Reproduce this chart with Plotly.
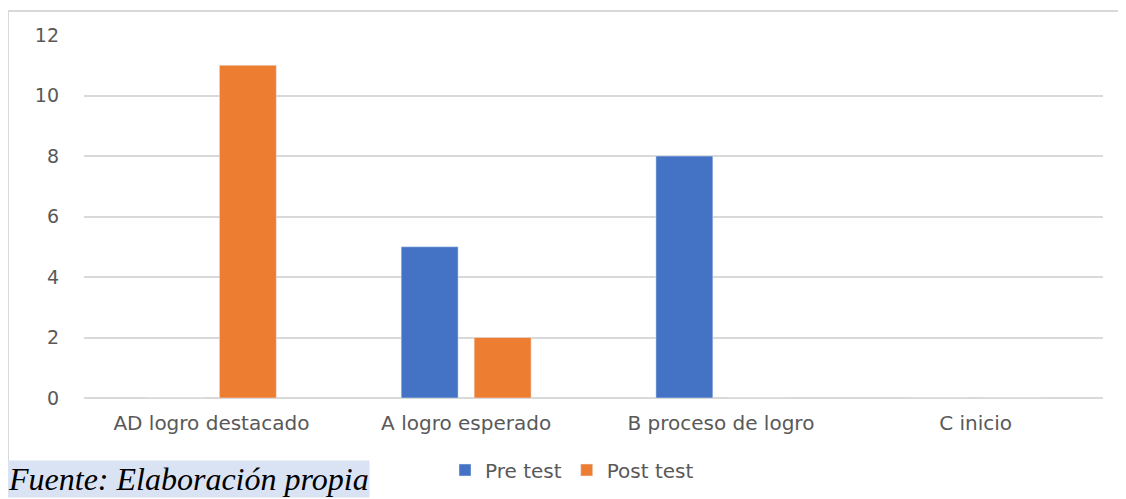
import plotly.graph_objects as go

categories = ["AD logro destacado", "A logro esperado", "B proceso de logro", "C inicio"]
pre_test = [0, 5, 8, 0]
post_test = [11, 2, 0, 0]
series_names = ["Pre test", "Post test"]
y_ticks = [0, 2, 4, 6, 8, 10, 12]
source_text = "Fuente: Elaboración propia"

W, H = 1126, 499
OFF = 8  # page offset of the figure
L, R, T, B = 84 - OFF, 23 + OFF, 35 - OFF, 101 + OFF
pw, ph = W - L - R, H - T - B

def px_x(x):
    return (x - OFF - L) / pw

def px_y(y):
    return (H - B - (y - OFF)) / ph

FONT = "DejaVu Sans"

fig = go.Figure()
fig.add_trace(go.Bar(x=categories, y=pre_test, name=series_names[0], marker_color="#4472C4"))
fig.add_trace(go.Bar(x=categories, y=post_test, name=series_names[1], marker_color="#ED7D31"))

fig.update_layout(
    width=W, height=H,
    margin=dict(l=L, r=R, t=T, b=B),
    paper_bgcolor="white", plot_bgcolor="white",
    barmode="group", bargap=0.427, bargroupgap=0.22,
    font=dict(family=FONT, size=20, color="#595959"),
    legend=dict(orientation="h", x=px_x(572), y=px_y(470), xanchor="center", yanchor="middle",
                font=dict(family=FONT, size=20, color="#595959"), itemwidth=30, traceorder="normal"),
    xaxis=dict(showgrid=False, showline=False, ticks="", ticklabelstandoff=11,
               tickfont=dict(family=FONT, size=20, color="#595959")),
    yaxis=dict(range=[0, 12], tickvals=y_ticks, showgrid=True, gridcolor="#d9d9d9", gridwidth=1.5,
               zeroline=True, zerolinecolor="#d9d9d9", zerolinewidth=1.5, showline=False,
               ticklabelstandoff=24, tickfont=dict(family=FONT, size=19, color="#595959")),
    shapes=[
        dict(type="line", xref="paper", yref="paper", x0=px_x(8), x1=px_x(1140), y0=px_y(11), y1=px_y(11),
             line=dict(color="#d9d9d9", width=2)),
        dict(type="line", xref="paper", yref="paper", x0=px_x(8), x1=px_x(8), y0=px_y(11), y1=px_y(461),
             line=dict(color="#d9d9d9", width=2)),
    ],
    annotations=[
        dict(text=source_text, xref="paper", yref="paper", x=px_x(7), y=px_y(479),
             xanchor="left", yanchor="middle", showarrow=False,
             font=dict(family="Liberation Serif", size=32, color="black", style="italic"),
             bgcolor="#dae3f3", borderpad=0),
    ],
)

fig.write_html("out.html")
